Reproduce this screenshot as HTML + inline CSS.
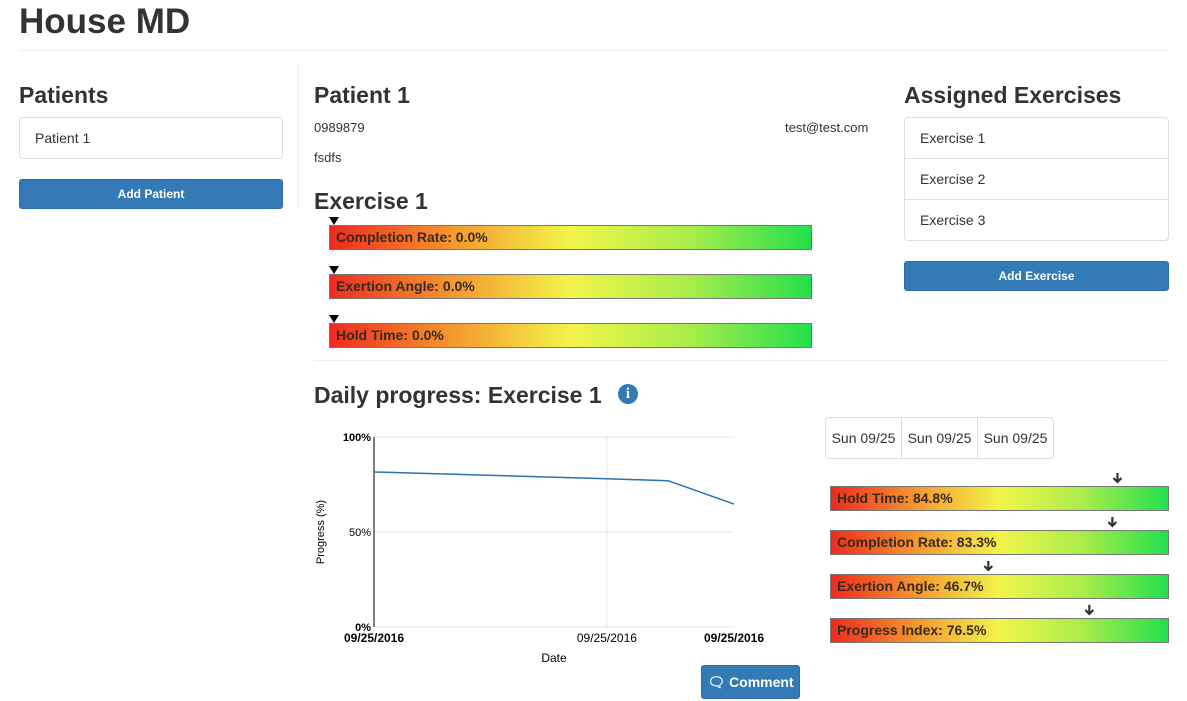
<!DOCTYPE html>
<html><head><meta charset="utf-8"><style>
body{margin:0;width:1187px;height:701px;background:#fff;font-family:"Liberation Sans",sans-serif;color:#333;position:relative;overflow:hidden}
.a{position:absolute}
h1,h3{margin:0;font-weight:bold}
.grad{background:linear-gradient(to right,#ee2a1f 0%,#f5962e 25%,#f2f54a 50%,#a8ec4a 75%,#22e04e 100%);border:1px solid #777;box-sizing:border-box;font-weight:bold;font-size:14px;color:#3a2a1a;padding-left:6px;line-height:22px}
.btn{background:#337ab7;border:1px solid #2e6da4;border-radius:3px;color:#fff;text-align:center;font-size:12px;box-sizing:border-box}
.li{border:1px solid #ddd;box-sizing:border-box;font-size:14px;padding-left:15px;line-height:40px;background:#fff}
.tri{width:0;height:0;border-left:5px solid transparent;border-right:5px solid transparent;border-top:8px solid #000}
</style></head><body>
<h1 class="a" style="left:19px;top:2px;font-size:35px">House MD</h1>
<div class="a" style="left:19px;top:50px;width:1150px;height:1px;background:#eee"></div>
<div class="a" style="left:298px;top:61px;width:1px;height:148px;background:#eee"></div>

<h3 class="a" style="left:19px;top:82px;font-size:23px">Patients</h3>
<div class="a li" style="left:19px;top:117px;width:264px;height:42px;border-radius:4px">Patient 1</div>
<div class="a btn" style="left:19px;top:179px;width:264px;height:30px;line-height:28px;font-weight:bold">Add Patient</div>

<h3 class="a" style="left:314px;top:82px;font-size:23px">Patient 1</h3>
<div class="a" style="left:314px;top:120px;font-size:13px">0989879</div>
<div class="a" style="left:785px;top:120px;font-size:13px">test@test.com</div>
<div class="a" style="left:314px;top:150px;font-size:13px">fsdfs</div>
<h3 class="a" style="left:314px;top:188px;font-size:23px">Exercise 1</h3>

<div class="a tri" style="left:329px;top:217px"></div>
<div class="a grad" style="left:329px;top:225px;width:483px;height:25px">Completion Rate: 0.0%</div>
<div class="a tri" style="left:329px;top:266px"></div>
<div class="a grad" style="left:329px;top:274px;width:483px;height:25px">Exertion Angle: 0.0%</div>
<div class="a tri" style="left:329px;top:315px"></div>
<div class="a grad" style="left:329px;top:323px;width:483px;height:25px">Hold Time: 0.0%</div>

<h3 class="a" style="left:904px;top:82px;font-size:23px">Assigned Exercises</h3>
<div class="a li" style="left:904px;top:117px;width:265px;height:42px;border-radius:4px 4px 0 0">Exercise 1</div>
<div class="a li" style="left:904px;top:158px;width:265px;height:42px">Exercise 2</div>
<div class="a li" style="left:904px;top:199px;width:265px;height:42px;border-radius:0 0 4px 4px">Exercise 3</div>
<div class="a btn" style="left:904px;top:261px;width:265px;height:30px;line-height:28px;font-weight:bold">Add Exercise</div>

<div class="a" style="left:314px;top:360px;width:855px;height:1px;background:#eee"></div>
<h3 class="a" style="left:314px;top:382px;font-size:23px">Daily progress: Exercise 1</h3>
<div class="a" style="left:618px;top:384px;width:20px;height:20px;border-radius:50%;background:#337ab7;color:#fff;font:bold 15px 'Liberation Serif',serif;text-align:center;line-height:20px">i</div>

<svg class="a" id="chart" style="left:0;top:0" width="1187" height="701"></svg>

<div class="a btn" style="left:701px;top:665px;width:99px;height:34px;line-height:32px;font-size:14px;font-weight:bold">&#128488; Comment</div>

<div class="a li" style="left:825px;top:417px;width:77px;height:42px;padding:0;text-align:center;border-radius:4px 0 0 4px">Sun 09/25</div>
<div class="a li" style="left:901px;top:417px;width:77px;height:42px;padding:0;text-align:center">Sun 09/25</div>
<div class="a li" style="left:977px;top:417px;width:77px;height:42px;padding:0;text-align:center;border-radius:0 4px 4px 0">Sun 09/25</div>
<div id="meters"></div>

<script>
const dates=[0,0.647,0.817,1];
const progress=[81.6,78,77,64.7];
const yTicks=[0,50,100];
const xTickLabels=["09/25/2016","09/25/2016","09/25/2016"];
const xTickPos=[0,0.647,1];
const meterNames=["Hold Time","Completion Rate","Exertion Angle","Progress Index"];
const meterValues=[84.8,83.3,46.7,76.5];

const ns="http://www.w3.org/2000/svg";
const svg=document.getElementById('chart');
const X0=374,X1=734,Y0=627,Y1=437;
const xs=v=>X0+v*(X1-X0);
const ys=v=>Y0-v/100*(Y0-Y1);
function mk(t,at){const e=document.createElementNS(ns,t);for(const k in at)e.setAttribute(k,at[k]);svg.appendChild(e);return e;}
yTicks.forEach(t=>{
  const g=mk('line',{x1:X0,x2:X1,y1:ys(t),y2:ys(t),stroke:'#e4e4e4'});
  
  
  const l=mk('text',{x:X0-3,y:ys(t)+4,'text-anchor':'end','font-size':11,'font-weight':t==100||t==0?'bold':'normal',fill:'#000'});
  l.textContent=t+'%';
  
  
});
xTickPos.forEach((p,i)=>{
  if(i>0&&i<xTickPos.length-1){const g=mk('line',{x1:xs(p),x2:xs(p),y1:Y1,y2:Y0,stroke:'#e4e4e4'});
  
  }
  const l=mk('text',{x:xs(p),y:Y0+15,'text-anchor':'middle','font-size':12,'font-weight':(i==0||i==xTickPos.length-1)?'bold':'normal',fill:'#000'});
  l.textContent=xTickLabels[i];
  
  
});
const ax=mk('line',{x1:X0,x2:X0,y1:Y1,y2:Y0,stroke:'#000'});


const line=mk('polyline',{points:dates.map((d,i)=>xs(d)+','+ys(progress[i])).join(' '),fill:'none',stroke:'#2b72b0','stroke-width':1.5});


const yt=mk('text',{x:324,y:532,'text-anchor':'middle','font-size':11,fill:'#000',transform:'rotate(-90 324 532)'});
yt.textContent='Progress (%)';


const xt=mk('text',{x:554,y:662,'text-anchor':'middle','font-size':12,fill:'#000'});
xt.textContent='Date';



const M=document.getElementById('meters');
const MX=830,MW=339;
meterNames.forEach((n,i)=>{
  const top=486+i*44;
  const b=document.createElement('div');
  b.className='a grad';
  b.style.cssText=`left:${MX}px;top:${top}px;width:${MW}px;height:25px`;
  b.textContent=n+': '+meterValues[i].toFixed(1)+'%';
  
  
  M.appendChild(b);
  const cx=MX+meterValues[i]/100*MW;
  const a=mk('path',{d:`M${cx} ${top-13}V${top-4}M${cx-4} ${top-8}L${cx} ${top-4}L${cx+4} ${top-8}`,stroke:'#333','stroke-width':2.2,fill:'none'});
  
  
});
</script>
</body></html>
